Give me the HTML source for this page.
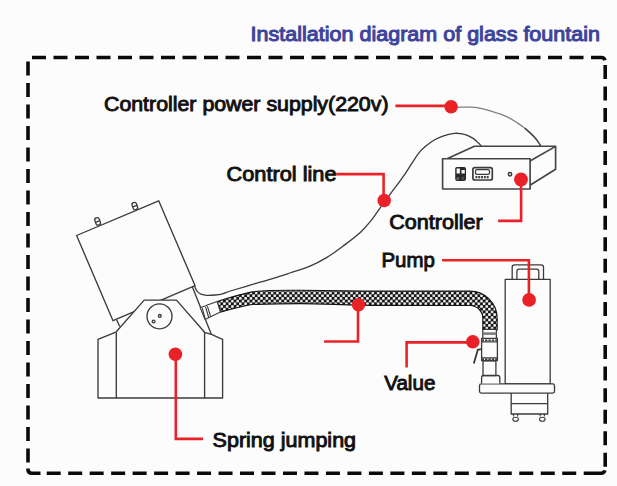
<!DOCTYPE html>
<html><head><meta charset="utf-8"><style>
html,body{margin:0;padding:0;background:#fcfcfc;}
body{width:617px;height:486px;overflow:hidden;}
svg{display:block;font-family:"Liberation Sans",sans-serif;}
</style></head><body>
<svg width="617" height="486" viewBox="0 0 617 486">
<rect width="617" height="486" fill="#fcfcfc"/>
<path d="M32.00,57.5H46.00 M53.50,57.5H67.50 M75.00,57.5H89.00 M96.50,57.5H110.50 M118.00,57.5H132.00 M139.50,57.5H153.50 M161.00,57.5H175.00 M182.50,57.5H196.50 M204.00,57.5H218.00 M225.50,57.5H239.50 M247.00,57.5H261.00 M268.50,57.5H282.50 M290.00,57.5H304.00 M311.50,57.5H325.50 M333.00,57.5H347.00 M354.50,57.5H368.50 M376.00,57.5H390.00 M397.50,57.5H411.50 M419.00,57.5H433.00 M440.50,57.5H454.50 M462.00,57.5H476.00 M483.50,57.5H497.50 M505.00,57.5H519.00 M526.50,57.5H540.50 M548.00,57.5H562.00 M569.50,57.5H583.50 M591.00,57.5H601.20Q604.2,57.5 604.9000000000001,60.3 M605.2,64.90V78.90 M605.2,86.45V100.45 M605.2,108.00V122.00 M605.2,129.55V143.55 M605.2,151.10V165.10 M605.2,172.65V186.65 M605.2,194.20V208.20 M605.2,215.75V229.75 M605.2,237.30V251.30 M605.2,258.85V272.85 M605.2,280.40V294.40 M605.2,301.95V315.95 M605.2,323.50V337.50 M605.2,345.05V359.05 M605.2,366.60V380.60 M605.2,388.15V402.15 M605.2,409.70V423.70 M605.2,431.25V445.25 M605.2,452.80V466.80 M46.70,473.2H60.70 M68.18,473.2H82.18 M89.66,473.2H103.66 M111.14,473.2H125.14 M132.62,473.2H146.62 M154.10,473.2H168.10 M175.58,473.2H189.58 M197.06,473.2H211.06 M218.54,473.2H232.54 M240.02,473.2H254.02 M261.50,473.2H275.50 M282.98,473.2H296.98 M304.46,473.2H318.46 M325.94,473.2H339.94 M347.42,473.2H361.42 M368.90,473.2H382.90 M390.38,473.2H404.38 M411.86,473.2H425.86 M433.34,473.2H447.34 M454.82,473.2H468.82 M476.30,473.2H490.30 M497.78,473.2H511.78 M519.26,473.2H533.26 M540.74,473.2H554.74 M562.22,473.2H576.22 M583.70,473.2H601.20Q604.2,473.2 604.9000000000001,470.4 M28.0,61.40V75.40 M28.0,82.91V96.91 M28.0,104.42V118.42 M28.0,125.93V139.93 M28.0,147.44V161.44 M28.0,168.95V182.95 M28.0,190.46V204.46 M28.0,211.97V225.97 M28.0,233.48V247.48 M28.0,254.99V268.99 M28.0,276.50V290.50 M28.0,298.01V312.01 M28.0,319.52V333.52 M28.0,341.03V355.03 M28.0,362.54V376.54 M28.0,384.05V398.05 M28.0,405.56V419.56 M28.0,427.07V441.07 M28.0,448.58V462.58 M28.0,468.59V469.2Q28.0,473.2 32.0,473.2H40.5" fill="none" stroke="#0a0a0a" stroke-width="3.6"/>
<text x="250.5" y="40.7" textLength="349.5" lengthAdjust="spacingAndGlyphs" font-size="20" font-weight="normal" fill="#3d449c" stroke="#3d449c" stroke-width="1.0">Installation diagram of glass fountain</text>
<text x="104.0" y="111.4" textLength="284.5" lengthAdjust="spacingAndGlyphs" font-size="20" font-weight="normal" fill="#111111" stroke="#111111" stroke-width="0.9">Controller power supply(220v)</text>
<text x="226.5" y="180.8" textLength="110" lengthAdjust="spacingAndGlyphs" font-size="20" font-weight="normal" fill="#111111" stroke="#111111" stroke-width="0.9">Control line</text>
<text x="389.3" y="228.8" textLength="93.5" lengthAdjust="spacingAndGlyphs" font-size="20" font-weight="normal" fill="#111111" stroke="#111111" stroke-width="0.9">Controller</text>
<text x="381.5" y="266.7" textLength="53.3" lengthAdjust="spacingAndGlyphs" font-size="20" font-weight="normal" fill="#111111" stroke="#111111" stroke-width="0.9">Pump</text>
<text x="384.2" y="390.4" textLength="51.2" lengthAdjust="spacingAndGlyphs" font-size="20" font-weight="normal" fill="#111111" stroke="#111111" stroke-width="0.9">Value</text>
<text x="212.6" y="447.2" textLength="143.5" lengthAdjust="spacingAndGlyphs" font-size="20" font-weight="normal" fill="#111111" stroke="#111111" stroke-width="0.9">Spring jumping</text>
<path d="M457.0,107.3 C459.4,107.3 467.5,107.0 471.2,107.1 C474.9,107.2 476.6,107.6 479.3,108.1 C482.0,108.6 484.7,109.3 487.4,110.1 C490.1,110.8 493.4,112.0 495.5,112.6 C497.6,113.2 497.9,113.1 500.0,113.9 C502.1,114.7 505.5,116.0 508.2,117.4 C510.9,118.8 513.6,120.5 516.4,122.3 C519.1,124.1 522.0,125.9 524.7,128.1 C527.5,130.3 530.7,133.3 532.9,135.5 C535.1,137.7 536.6,139.7 537.8,141.3 C539.0,143.0 539.8,144.6 540.3,145.4 C540.8,146.2 540.9,146.1 541.0,146.2" fill="none" stroke="#807e7f" stroke-width="1.2"/>
<path d="M524.7,128.1 C526.1,129.3 530.7,133.3 532.9,135.5 C535.1,137.7 536.6,139.7 537.8,141.3 C539.0,143.0 539.8,144.6 540.3,145.4 C540.8,146.2 540.9,146.1 541.0,146.2" fill="none" stroke="#444" stroke-width="1.4"/>
<path d="M194.6,286.0 C195.0,286.9 195.9,289.8 197.0,291.2 C198.1,292.6 199.3,293.5 201.0,294.2 C202.7,294.9 204.7,295.2 207.0,295.3 C209.3,295.4 212.4,295.2 215.0,295.0 C217.6,294.8 219.6,294.6 222.4,293.8 C225.2,293.1 227.4,291.9 232.0,290.5 C236.6,289.1 243.7,287.1 250.0,285.2 C256.3,283.3 263.3,281.4 270.0,279.4 C276.7,277.4 283.3,275.2 290.0,273.0 C296.7,270.8 303.9,268.8 310.0,266.2 C316.1,263.6 321.0,260.9 326.5,257.6 C332.0,254.3 337.3,250.4 342.9,246.2 C348.5,242.0 355.7,236.7 360.3,232.5 C364.9,228.3 367.4,225.2 370.6,221.2 C373.9,217.2 376.6,212.8 379.8,208.4 C383.0,204.0 387.0,198.6 389.9,194.6 C392.8,190.6 394.7,188.3 397.3,184.7 C399.9,181.1 402.1,178.3 405.6,173.2 C409.1,168.0 414.7,158.4 418.2,153.8 C421.7,149.2 423.8,147.9 426.5,145.6 C429.2,143.3 432.0,141.4 434.7,139.8 C437.4,138.2 439.6,137.2 442.9,136.1 C446.2,135.0 451.5,133.8 454.5,133.4 C457.5,133.0 458.9,133.4 461.0,133.7 C463.1,134.0 465.2,134.5 467.4,135.4 C469.5,136.3 472.0,137.6 473.9,138.9 C475.8,140.2 477.2,141.9 478.5,143.1 C479.8,144.3 480.9,145.6 481.4,146.1" fill="none" stroke="#3c3a3b" stroke-width="1.3"/>
<g fill="none" stroke="#454248" stroke-width="1.65" stroke-linejoin="round">
<path d="M447.6,158.5L474.4,146.2H555.6V169.3L530,185.2"/>
<path d="M530,161L555.6,146.4"/>
<rect x="442.6" y="158.7" width="87.5" height="30.3" fill="#fcfcfc"/>
</g>
<rect x="455.2" y="166.9" width="10.8" height="14" rx="1.8" fill="#2a2829"/>
<rect x="456.6" y="168.5" width="3.3" height="5" fill="#f6f6f6"/>
<rect x="461.5" y="170" width="3.3" height="3.5" fill="#f6f6f6"/>
<rect x="456.6" y="177.3" width="2.4" height="2.6" fill="#6d6b6e"/>
<rect x="461.6" y="176.8" width="2.6" height="2.8" fill="#4e4c58"/>
<rect x="472.9" y="167.6" width="19.4" height="12.4" rx="2" fill="none" stroke="#3c3a3b" stroke-width="1.7"/>
<rect x="475.5" y="169.6" width="14" height="4.8" rx="1.6" fill="#fff" stroke="#3c3a3b" stroke-width="1.3"/>
<path d="M475.5,177.2H489.5" stroke="#3c3a3b" stroke-width="2.2" stroke-dasharray="1.9 0.9"/>
<circle cx="510" cy="174.3" r="1.7" fill="none" stroke="#3c3a3b" stroke-width="1.5"/>

<g fill="none" stroke="#3c3a3b" stroke-width="1.35" stroke-linejoin="round">
<path d="M113,320.7L76.6,235.5L158.7,200.8L195,285.6L113,320.7Z" fill="#fcfcfc"/>
<path d="M116.6,319.8L119.7,326.5"/>
<path d="M192.3,286.7L211.4,334.4"/>
<path d="M98,339.4L115.8,332.2L144.2,300.1H176.5L204.6,332.3L211.4,334.4L222.6,339.3V398H98Z" fill="#fcfcfc"/>
<path d="M116.3,332.4V398M204.6,332.3V398"/>
<circle cx="159.5" cy="316.3" r="12.5"/>
<circle cx="159.8" cy="315.9" r="1.4"/>
<circle cx="153.6" cy="321.5" r="1.4"/>
<g transform="translate(97.6,221.3) rotate(-20)"><rect x="-2.3" y="-3.6" width="4.6" height="7.4" rx="2.1"/><path d="M-2.3,0.2H2.3"/></g>
<g transform="translate(134.8,206) rotate(-20)"><rect x="-2.3" y="-3.6" width="4.6" height="7.4" rx="2.1"/><path d="M-2.3,0.2H2.3"/></g>
</g>
<defs><pattern id="mesh" width="5.3" height="5.4" patternUnits="userSpaceOnUse" x="0.5" y="0">
<rect width="5.3" height="5.4" fill="#141414"/><circle cx="1.325" cy="1.35" r="1.42" fill="#f6f6f6"/><circle cx="3.975" cy="4.05" r="1.42" fill="#f6f6f6"/></pattern></defs>
<path d="M217.2,301.6 C224,299.4 238,294.8 252,291.9 C262,290.6 285,290.2 300,290.3 C330,290.5 350,291 365,291.1 L470,291.1 A27.2,27.2 0 0 1 497.2,318.3 L497.2,329.6 L482.8,329.6 L482.8,318.3 A12.8,12.8 0 0 0 470,305.5 L380,305.4 C350,305.3 320,303.5 300,303.6 C280,303.7 262,304 252,304.5 C240,306.5 228,310 220.4,312 Z" fill="url(#mesh)" stroke="#141414" stroke-width="1.1"/>

<g fill="#fcfcfc" stroke="#3c3a3b" stroke-width="1.1" stroke-linejoin="round">
<path d="M200.2,307.6C203,306.8 206,305.6 208.8,304.6L217.2,301.6L220.4,312L210.7,316.7L205.1,319.5Z"/>
<path d="M202.2,308L205.2,318.8M205.6,307L208.7,317.5M207.4,306.2L210.6,316.6"/>
</g>
<g fill="#fcfcfc" stroke="#3c3a3b" stroke-width="1.3" stroke-linejoin="round">
<path d="M512.2,279.2V267Q512.2,264.8 514.5,264.8H541.2Q543.5,264.8 543.5,267V279.2"/>
<path d="M516.9,279.2V271.4Q516.9,269.1 519.2,269.1H536.5Q538.8,269.1 538.8,271.4V279.2"/>
<rect x="505.2" y="279.3" width="45" height="104.6"/>
<path d="M511.2,393.1V414H547.7V393.1M511.2,403.6H547.7"/>
<rect x="479.5" y="383.9" width="75" height="9.2" rx="1.8"/>
<path d="M481.6,383.5V377.6Q481.6,375.5 483.6,375.5H497.8Q499.8,375.5 499.8,377.6V383.5"/>
<rect x="483" y="360.8" width="12.9" height="14.7"/>
<rect x="481.6" y="338.4" width="15.8" height="22.2"/>
<path d="M481.6,341.9H497.4M481.6,357.9H497.4"/>
<path d="M481.6,340.2H497.4M481.6,359.3H497.4" stroke-width="1.6" stroke-dasharray="2.4 1"/>
<rect x="482.8" y="329.4" width="13.6" height="8.9"/>
<rect x="482.8" y="332.3" width="13.6" height="2.6" fill="#7d7b7c" stroke="none"/>
</g>
<path d="M481.3,349.1L477.8,349.8L473.8,363.5" fill="none" stroke="#3c3a3b" stroke-width="1.8"/>
<g fill="#fcfcfc" stroke="#3c3a3b" stroke-width="1.1">
<path d="M513.5,414V416.5M517.7,414V416.5M540.2,414V416.5M544.4,414V416.5"/>
<ellipse cx="515.6" cy="419.3" rx="2.8" ry="2"/>
<ellipse cx="542.3" cy="419.3" rx="2.8" ry="2"/>
</g>
<g fill="none" stroke="#e92228" stroke-width="2.6" stroke-linejoin="miter" stroke-linecap="butt">
<path d="M395.4,105.9H451"/>
<path d="M336.2,174.1H383.6V200.5"/>
<path d="M521.1,179.5V220.9H498.1"/>
<path d="M442.1,260.2H528.9V299.9"/>
<path d="M358,304.7V341.5H324.1"/>
<path d="M472.8,342.4H406.6V367.6"/>
<path d="M175.8,354.2V438.9H203.1"/>
</g>
<circle cx="451.1" cy="106.8" r="6.8" fill="#e92228"/>
<circle cx="384.2" cy="200.5" r="6.8" fill="#e92228"/>
<circle cx="521" cy="179.5" r="6.9" fill="#e92228"/>
<circle cx="529.1" cy="299.9" r="6.85" fill="#e92228"/>
<circle cx="358.5" cy="304.7" r="6.75" fill="#e92228"/>
<circle cx="472.8" cy="341.8" r="6.8" fill="#e92228"/>
<circle cx="175.4" cy="354.2" r="6.8" fill="#e92228"/>
</svg>
</body></html>
